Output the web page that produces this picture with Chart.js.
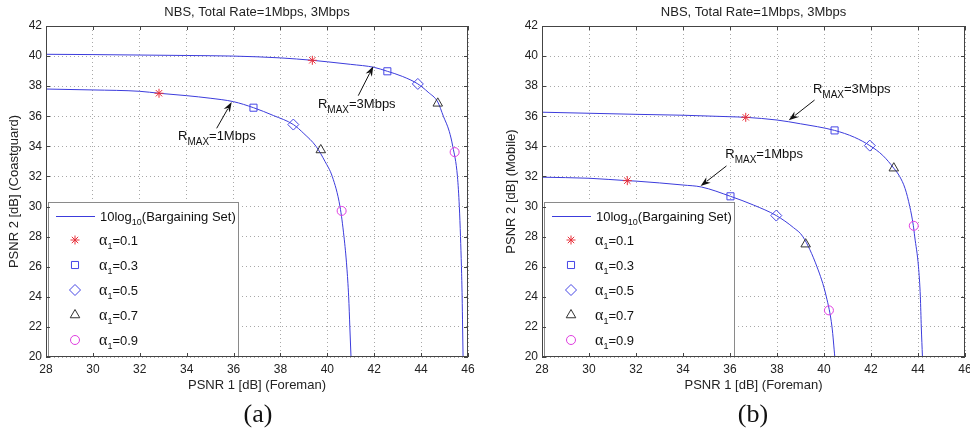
<!DOCTYPE html>
<html>
<head>
<meta charset="utf-8">
<title>NBS bargaining set</title>
<script src="https://cdn.jsdelivr.net/npm/chart.js@4.4.0/dist/chart.umd.min.js"></script>
<style>
  html, body { margin: 0; padding: 0; background: #fff; overflow: hidden; }
  body { width: 970px; height: 434px; position: relative; }
  .panel { position: absolute; top: 0; height: 400px; }
  #wrapA { left: 0; width: 485px; }
  #wrapB { left: 485px; width: 500px; }
  .cap { position: absolute; top: 399px; width: 100px; text-align: center; line-height: 30px;
         font-family: "Liberation Serif", "Times New Roman", serif; font-size: 26px; color: #111; }
</style>
</head>
<body>
<div class="panel" id="wrapA"><canvas id="chartA" width="485" height="400"></canvas></div>
<div class="panel" id="wrapB"><canvas id="chartB" width="500" height="400"></canvas></div>
<div class="cap" style="left:208px">(a)</div>
<div class="cap" style="left:703px">(b)</div>
<script>
const xTicks = [28, 30, 32, 34, 36, 38, 40, 42, 44, 46];
const yTicks = [20, 22, 24, 26, 28, 30, 32, 34, 36, 38, 40, 42];
const alphaValues = ['0.1', '0.3', '0.5', '0.7', '0.9'];
const rateLabels = ['1Mbps', '3Mbps'];

const titleText = 'NBS, Total Rate=1Mbps, 3Mbps';
const xTitle = 'PSNR 1 [dB] (Foreman)';
const yTitleA = 'PSNR 2 [dB] (Coastguard)';
const yTitleB = 'PSNR 2 [dB] (Mobile)';

// (a) Foreman / Coastguard
const curveA1x = [28, 30, 32, 32.82, 34, 35, 36, 36.85, 37.7, 38.55, 39.0, 39.52, 39.9, 40.21, 40.54, 40.71, 40.83, 40.91, 40.96, 41.01];
const curveA1y = [37.81, 37.75, 37.66, 37.53, 37.37, 37.2, 36.97, 36.57, 36.05, 35.45, 34.85, 34.0, 33.0, 32.0, 30.0, 28.0, 26.0, 24.0, 22.0, 20.0];
const curveA3x = [28, 30, 32, 34, 36, 38, 39.36, 40, 41, 42, 42.56, 43.2, 43.86, 44.3, 44.71, 44.95, 45.2, 45.35, 45.55, 45.63, 45.68, 45.72, 45.75, 45.77, 45.79];
const curveA3y = [40.12, 40.1, 40.07, 40.04, 40.0, 39.88, 39.72, 39.62, 39.45, 39.25, 38.99, 38.65, 38.15, 37.6, 36.95, 36.0, 35.0, 34.0, 32.0, 30.0, 28.0, 26.0, 24.0, 22.0, 20.0];
const markA1x = [32.82, 36.85, 38.55, 39.72, 40.61];
const markA1y = [37.53, 36.57, 35.45, 33.76, 29.71];
const markA3x = [39.36, 42.56, 43.86, 44.71, 45.43];
const markA3y = [39.72, 38.99, 38.15, 36.86, 33.62];

// (b) Foreman / Mobile
const curveB1x = [28, 30, 31.63, 32, 34, 34.78, 36.02, 37.0, 37.97, 38.7, 39.1, 39.7, 40.1, 40.34, 40.46];
const curveB1y = [31.95, 31.88, 31.72, 31.69, 31.43, 31.3, 30.68, 30.1, 29.4, 28.6, 28.0, 26.0, 24.0, 22.0, 20.0];
const curveB3x = [28, 30, 32, 34, 36, 36.67, 38, 39, 40.45, 41.3, 41.95, 42.5, 42.97, 43.22, 43.45, 43.65, 43.8, 43.86, 44.02, 44.1, 44.14, 44.19];
const curveB3y = [36.27, 36.2, 36.13, 36.07, 35.97, 35.93, 35.75, 35.5, 35.06, 34.6, 34.05, 33.4, 32.55, 32.0, 31.2, 30.0, 28.75, 28.0, 26.0, 24.0, 22.0, 20.0];
const markB1x = [31.63, 36.02, 37.97, 39.22, 40.21];
const markB1y = [31.72, 30.68, 29.4, 27.5, 23.1];
const markB3x = [36.67, 40.45, 41.95, 42.97, 43.82];
const markB3y = [35.93, 35.06, 34.05, 32.55, 28.72];

const SANS = '"Liberation Sans", Arial, Helvetica, sans-serif';
const SERIF = '"Liberation Serif", "Times New Roman", serif';
const curveColor = '#3c3cdc';
const markerStyles = ['star', 'rect', 'rectRot', 'triangle', 'circle'];
const markerColors = ['#e8303a', '#4646e6', '#4646e6', '#333333', '#e03ee0'];
const markerRadius = [4.5, 5, 5.5, 5.5, 4.5];

function pts(xs, ys) {
  return xs.map((v, i) => ({ x: v, y: ys[i] }));
}

function drawRuns(ctx, x, y, runs) {
  ctx.textAlign = 'left';
  ctx.textBaseline = 'alphabetic';
  for (const [t, size, dy, fam] of runs) {
    ctx.font = size + 'px ' + (fam || SANS);
    ctx.fillText(t, x, y + (dy || 0));
    x += ctx.measureText(t).width;
  }
}

function drawArrow(ctx, x1, y1, x2, y2) {
  const ang = Math.atan2(y2 - y1, x2 - x1);
  const len = 10, half = 3.5;
  ctx.strokeStyle = '#111';
  ctx.fillStyle = '#111';
  ctx.lineWidth = 1;
  ctx.beginPath();
  ctx.moveTo(x1, y1);
  ctx.lineTo(x2 - Math.cos(ang) * len * 0.8, y2 - Math.sin(ang) * len * 0.8);
  ctx.stroke();
  ctx.beginPath();
  ctx.moveTo(x2, y2);
  ctx.lineTo(x2 - Math.cos(ang) * len - Math.sin(ang) * half, y2 - Math.sin(ang) * len + Math.cos(ang) * half);
  ctx.lineTo(x2 - Math.cos(ang) * len * 0.7, y2 - Math.sin(ang) * len * 0.7);
  ctx.lineTo(x2 - Math.cos(ang) * len + Math.sin(ang) * half, y2 - Math.sin(ang) * len - Math.cos(ang) * half);
  ctx.closePath();
  ctx.fill();
}

const extras = {
  id: 'extras',
  afterDatasetsDraw(chart, args, opts) {
    const { ctx, chartArea: a, scales: { x, y } } = chart;
    ctx.save();

    // rate annotations
    opts.notes.forEach(n => {
      ctx.fillStyle = '#111';
      drawRuns(ctx, x.getPixelForValue(n.tx), y.getPixelForValue(n.ty),
        [['R', 13], ['MAX', 10, 5], ['=' + n.rate, 13]]);
      drawArrow(ctx, x.getPixelForValue(n.from[0]), y.getPixelForValue(n.from[1]),
        x.getPixelForValue(n.to[0]), y.getPixelForValue(n.to[1]));
    });

    // legend
    const lx = a.left + 2, ly = 202, lw = 190, lh = a.bottom - 1 - ly;
    ctx.fillStyle = '#fff';
    ctx.fillRect(lx, ly, lw, lh);
    ctx.strokeStyle = '#8a8a8a';
    ctx.lineWidth = 1;
    ctx.strokeRect(lx + 0.5, ly + 0.5, lw, lh);
    ctx.strokeStyle = curveColor;
    ctx.beginPath();
    ctx.moveTo(lx + 8, 216.5);
    ctx.lineTo(lx + 47, 216.5);
    ctx.stroke();
    ctx.fillStyle = '#111';
    drawRuns(ctx, lx + 52, 221, [['10log', 13], ['10', 9, 4], ['(Bargaining Set)', 13]]);
    alphaValues.forEach((v, i) => {
      const ry = 240 + i * 25;
      ctx.strokeStyle = markerColors[i];
      ctx.fillStyle = 'rgba(0,0,0,0)';
      ctx.lineWidth = 1;
      Chart.helpers.drawPoint(ctx, { pointStyle: markerStyles[i], radius: markerRadius[i], rotation: 0, borderWidth: 1 }, lx + 27, ry);
      ctx.fillStyle = '#111';
      drawRuns(ctx, lx + 51, ry + 4.5, [['\u03b1', 16, 0, SERIF], ['1', 9, 4], ['=' + v, 13]]);
    });

    // axes box with inward ticks
    ctx.strokeStyle = '#444';
    ctx.lineWidth = 1;
    ctx.strokeRect(Math.round(a.left) + 0.5, Math.round(a.top) + 0.5, Math.round(a.width) - 1, Math.round(a.height) - 1);
    ctx.beginPath();
    xTicks.forEach(v => {
      const px = Math.round(x.getPixelForValue(v)) + 0.5;
      ctx.moveTo(px, a.bottom); ctx.lineTo(px, a.bottom - 4);
      ctx.moveTo(px, a.top); ctx.lineTo(px, a.top + 4);
    });
    yTicks.forEach(v => {
      const py = Math.round(y.getPixelForValue(v)) + 0.5;
      ctx.moveTo(a.left, py); ctx.lineTo(a.left + 4, py);
      ctx.moveTo(a.right, py); ctx.lineTo(a.right - 4, py);
    });
    ctx.stroke();

    // title
    ctx.fillStyle = '#222';
    ctx.font = '13px ' + SANS;
    ctx.textAlign = 'center';
    ctx.textBaseline = 'middle';
    ctx.fillText(titleText, (a.left + a.right) / 2, 12);
    ctx.restore();
  }
};

function makeChart(id, c1, c3, m1, m3, yTitle, yAxisWidth, yTitlePad, padRight, notes) {
  const datasets = alphaValues.map((v, i) => ({
    label: '\u03b1=' + v,
    data: [{ x: m1[0][i], y: m1[1][i] }, { x: m3[0][i], y: m3[1][i] }],
    showLine: false,
    pointStyle: markerStyles[i],
    pointRadius: markerRadius[i],
    pointBorderWidth: 1,
    pointBorderColor: markerColors[i],
    pointBackgroundColor: 'rgba(0,0,0,0)',
    order: 1
  }));
  [c1, c3].forEach((c, k) => datasets.push({
    label: '10log10(Bargaining Set) ' + rateLabels[k],
    data: pts(c[0], c[1]),
    showLine: true,
    borderColor: curveColor,
    borderWidth: 1,
    pointRadius: 0,
    cubicInterpolationMode: 'monotone',
    fill: false,
    order: 2
  }));

  const tickFont = { size: 12, family: SANS };
  const titleFont = { size: 13, family: SANS };
  return new Chart(document.getElementById(id), {
    type: 'scatter',
    data: { datasets },
    options: {
      responsive: false,
      animation: false,
      events: [],
      layout: { padding: { left: 0, right: padRight, top: 26, bottom: 0 } },
      plugins: { legend: { display: false }, tooltip: { enabled: false }, extras: { notes } },
      scales: {
        x: {
          type: 'linear', min: 28, max: 46,
          afterBuildTicks: s => { s.ticks = xTicks.map(v => ({ value: v })); },
          afterFit: s => { s.height = 43; },
          grid: { color: '#a8a8a8', drawTicks: false, lineWidth: 1 },
          border: { display: false, dash: [1, 3] },
          ticks: { padding: 5, color: '#222', font: tickFont, maxRotation: 0, autoSkip: false },
          title: { display: true, text: xTitle, color: '#222', font: titleFont, padding: { top: 0, bottom: 7 } }
        },
        y: {
          type: 'linear', min: 20, max: 42,
          afterBuildTicks: s => { s.ticks = yTicks.map(v => ({ value: v })); },
          afterFit: s => { s.width = yAxisWidth; },
          grid: { color: '#a8a8a8', drawTicks: false, lineWidth: 1 },
          border: { display: false, dash: [1, 3] },
          ticks: { padding: 4, color: '#222', font: tickFont, autoSkip: false },
          title: { display: true, text: yTitle, color: '#222', font: titleFont, padding: { top: yTitlePad, bottom: 0 } }
        }
      }
    },
    plugins: [extras]
  });
}

makeChart('chartA', [curveA1x, curveA1y], [curveA3x, curveA3y], [markA1x, markA1y], [markA3x, markA3y],
  yTitleA, 46, 7, 17, [
    { rate: rateLabels[1], tx: 39.6, ty: 36.55, from: [41.32, 37.37], to: [41.96, 39.33] },
    { rate: rateLabels[0], tx: 33.63, ty: 34.43, from: [35.28, 35.2], to: [35.92, 36.95] }
  ]);

makeChart('chartB', [curveB1x, curveB1y], [curveB3x, curveB3y], [markB1x, markB1y], [markB3x, markB3y],
  yTitleB, 57, 18.5, 20, [
    { rate: rateLabels[1], tx: 39.53, ty: 37.55, from: [39.6, 37.08], to: [38.5, 35.73] },
    { rate: rateLabels[0], tx: 35.8, ty: 33.23, from: [35.85, 32.7], to: [34.75, 31.36] }
  ]);
</script>
</body>
</html>
